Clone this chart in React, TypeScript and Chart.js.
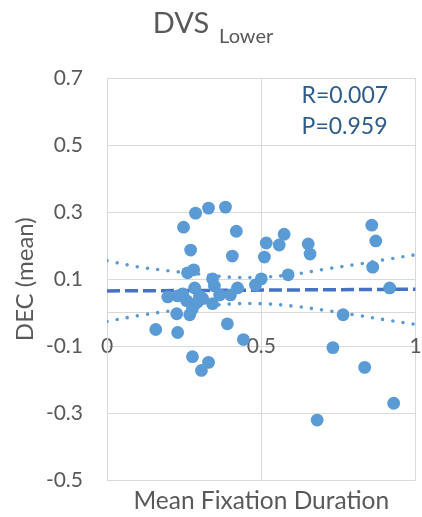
import React, { useEffect, useRef } from "react";
import { Chart, registerables } from "chart.js";

Chart.register(...registerables);

// ---- data ----
const pointX = [
  0.158, 0.197, 0.229, 0.226, 0.229, 0.248, 0.287, 0.329, 0.384, 0.419,
  0.271, 0.406, 0.261, 0.281, 0.284, 0.300, 0.294, 0.310, 0.268, 0.342,
  0.348, 0.342, 0.365, 0.400, 0.423, 0.390, 0.442, 0.277, 0.329, 0.306,
  0.481, 0.500, 0.510, 0.516, 0.558, 0.574, 0.587, 0.652, 0.658, 0.858,
  0.871, 0.861, 0.916, 0.765, 0.732, 0.835, 0.929, 0.681, 0.245, 0.258,
  0.277,
];
const pointY = [
  -0.050, 0.047, 0.050, -0.003, -0.059, 0.255, 0.297, 0.312, 0.315, 0.243,
  0.187, 0.169, 0.119, 0.128, 0.074, 0.050, 0.033, 0.042, -0.006, 0.101,
  0.080, 0.027, 0.053, 0.053, 0.074, -0.033, -0.080, -0.131, -0.148, -0.172,
  0.083, 0.101, 0.166, 0.208, 0.202, 0.234, 0.113, 0.205, 0.175, 0.261,
  0.214, 0.136, 0.074, -0.006, -0.104, -0.163, -0.270, -0.320, 0.056, 0.036,
  0.012,
];
const trendX = [0, 1];
const trendY = [0.065, 0.07];
const bandX = [0, 0.1, 0.2, 0.3, 0.4, 0.5, 0.6, 0.7, 0.8, 0.9, 1.0];
const bandUpper = [0.155, 0.137, 0.125, 0.115, 0.106, 0.106, 0.114, 0.129, 0.143, 0.158, 0.173];
const bandLower = [-0.026, -0.009, 0.005, 0.017, 0.026, 0.027, 0.02, 0.008, -0.006, -0.021, -0.035];

const xMin = 0;
const xMax = 1;
const xStep = 0.5;
const yMin = -0.5;
const yMax = 0.7;
const yStep = 0.2;

const titleMain = "DVS";
const titleSub = "Lower";
const statLines = ["R=0.007", "P=0.959"];
const xAxisTitle = "Mean Fixation Duration";
const yAxisTitle = "DEC (mean)";

const FONT = "Lato";
const GRAY_TEXT = "#595959";
const GRID = "#D9D9D9";
const POINT_BLUE = "#5B9BD5";
const TREND_BLUE = "#4472C4";
const STAT_BLUE = "#2C5C8C";

const toXY = (xs: number[], ys: number[]) => xs.map((x, i) => ({ x, y: ys[i] }));

const titlePlugin = {
  id: "subTitle",
  afterDraw(chart: any) {
    const { ctx, width, chartArea } = chart;
    ctx.save();
    ctx.fillStyle = GRAY_TEXT;
    ctx.textBaseline = "alphabetic";
    ctx.textAlign = "left";
    ctx.font = `29px ${FONT}`;
    const w1 = ctx.measureText(titleMain).width;
    ctx.font = `20px ${FONT}`;
    const w2 = ctx.measureText(titleSub).width;
    const gap = 10;
    const start = width / 2 + 2 - (w1 + gap + w2) / 2;
    ctx.font = `29px ${FONT}`;
    ctx.fillText(titleMain, start, 33);
    ctx.font = `20px ${FONT}`;
    ctx.fillText(titleSub, start + w1 + gap, 43);

    // statistics annotation
    ctx.fillStyle = STAT_BLUE;
    ctx.font = `23px ${FONT}`;
    const sx = chartArea.right - 114;
    ctx.fillText(statLines[0], sx, chartArea.top + 25);
    ctx.fillText(statLines[1], sx, chartArea.top + 56);
    ctx.restore();
  },
};

export default function App() {
  const canvasRef = useRef<HTMLCanvasElement | null>(null);

  useEffect(() => {
    document.body.style.margin = "0";
    const canvas = canvasRef.current;
    if (!canvas) return;
    const chart = new Chart(canvas, {
      type: "scatter",
      data: {
        datasets: [
          {
            label: "points",
            data: toXY(pointX, pointY),
            backgroundColor: POINT_BLUE,
            borderColor: POINT_BLUE,
            borderWidth: 0,
            pointRadius: 6.4,
            order: 0,
          },
          {
            label: "trend",
            data: toXY(trendX, trendY),
            showLine: true,
            borderColor: TREND_BLUE,
            borderWidth: 3.5,
            borderDash: [13, 5],
            pointRadius: 0,
            order: 1,
          },
          {
            label: "upper",
            data: toXY(bandX, bandUpper),
            showLine: true,
            borderColor: POINT_BLUE,
            borderWidth: 3.6,
            borderDash: [0, 10.3],
            borderCapStyle: "round",
            tension: 0.4,
            pointRadius: 0,
            order: 2,
          },
          {
            label: "lower",
            data: toXY(bandX, bandLower),
            showLine: true,
            borderColor: POINT_BLUE,
            borderWidth: 3.6,
            borderDash: [0, 10.3],
            borderCapStyle: "round",
            tension: 0.4,
            pointRadius: 0,
            order: 2,
          },
        ] as any,
      },
      options: {
        animation: false,
        responsive: true,
        maintainAspectRatio: false,
        layout: { padding: { top: 78, right: 5, left: 0, bottom: 0 } },
        plugins: {
          legend: { display: false },
          tooltip: { enabled: false },
          title: { display: false },
        },
        scales: {
          x: {
            type: "linear",
            position: { y: 0 } as any,
            min: xMin,
            max: xMax,
            ticks: {
              stepSize: xStep,
              color: GRAY_TEXT,
              font: { family: FONT, size: 21 },
              padding: 21,
              maxRotation: 0,
              callback: (v: any) => String(Number(v)),
            },
            grid: { color: GRID, lineWidth: 1, drawTicks: false },
            border: { color: GRID, width: 1 },
            afterFit(s: any) {
              s.paddingLeft = 0;
              s.paddingRight = 0;
            },
          },
          x2: {
            type: "linear",
            position: "bottom",
            min: xMin,
            max: xMax,
            grid: { display: false, drawTicks: false },
            border: { display: false },
            ticks: { display: false },
            title: {
              display: true,
              text: xAxisTitle,
              color: GRAY_TEXT,
              font: { family: FONT, size: 24.5 },
              padding: { top: 0, bottom: 0 },
            },
            afterFit(s: any) {
              s.height = 35;
              s.paddingLeft = 0;
              s.paddingRight = 0;
            },
          },
          y: {
            type: "linear",
            position: "left",
            min: yMin,
            max: yMax,
            ticks: {
              stepSize: yStep,
              color: GRAY_TEXT,
              font: { family: FONT, size: 21 },
              padding: 24,
            },
            grid: { color: GRID, lineWidth: 1, drawTicks: false },
            border: { color: GRID, width: 1 },
            title: {
              display: true,
              text: yAxisTitle,
              color: GRAY_TEXT,
              font: { family: FONT, size: 24 },
              padding: { top: 11, bottom: 0 },
            },
            afterFit(s: any) {
              s.width = 107;
            },
          },
        },
      } as any,
      plugins: [titlePlugin],
    });
    return () => chart.destroy();
  }, []);

  return (
    <div style={{ position: "relative", width: 422, height: 517 }}>
      <canvas ref={canvasRef} />
    </div>
  );
}
